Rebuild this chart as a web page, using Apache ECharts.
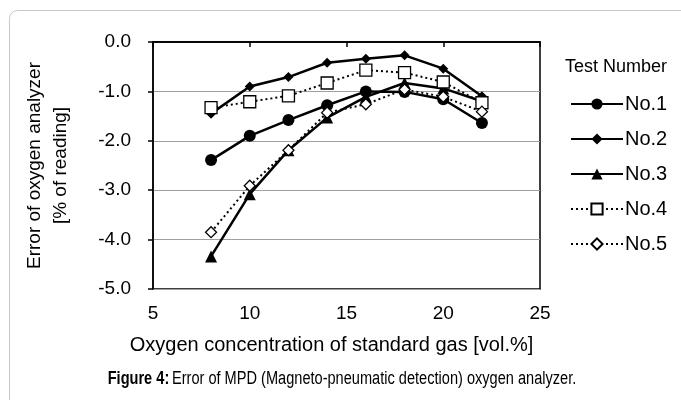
<!DOCTYPE html>
<html><head><meta charset="utf-8">
<script src="https://cdn.jsdelivr.net/npm/echarts@6/dist/echarts.min.js"></script>
<style>html,body{margin:0;padding:0;background:#fff}#c{width:681px;height:400px}</style>
</head><body><div id="c"></div>
<script>
var xValues = [8, 10, 12, 14, 16, 18, 20, 22];
var seriesNames = ['No.1', 'No.2', 'No.3', 'No.4', 'No.5'];
var no1 = [-2.39, -1.90, -1.58, -1.28, -1.00, -1.01, -1.16, -1.64];
var no2 = [-1.45, -0.90, -0.71, -0.42, -0.34, -0.27, -0.54, -1.10];
var no3 = [-4.34, -3.08, -2.19, -1.53, -1.11, -0.83, -0.94, -1.20];
var no4 = [-1.33, -1.21, -1.09, -0.83, -0.57, -0.62, -0.81, -1.23];
var no5 = [-3.85, -2.91, -2.19, -1.43, -1.26, -0.96, -1.11, -1.41];
var xTicks = [5, 10, 15, 20, 25];
var yTicks = [0, -1, -2, -3, -4, -5];

function pairs(v){ return xValues.map(function(x,i){ return [x, v[i]]; }); }
var FONT = 'Liberation Sans, Arial, sans-serif';
var chart = echarts.init(document.getElementById('c'));
var solid = {color:'#000', width:2.5, type:'solid'};
var dotted = {color:'#000', width:2, type:[2,3]};
function mk(name, data, symbol, size, ls, filled){
  return {
    name: name, type: 'line', data: pairs(data), symbol: symbol, symbolSize: size,
    lineStyle: ls, itemStyle: {color: filled ? '#000' : '#fff', borderColor:'#000', borderWidth: filled?0:1.3},
    emphasis: {disabled:true}, animation:false, z: filled?3:4
  };
}
chart.setOption({
  animation: false,
  textStyle: {fontFamily: FONT},
  graphic: [
    {type:'rect', shape:{x:9.5, y:10.5, width:720, height:440, r:8}, style:{fill:'none', stroke:'#c8c8c8', lineWidth:1}, silent:true},
    {type:'text', left:565, top:58, style:{text:'Test Number', font:'18px ' + FONT, fill:'#000'}, silent:true},
    {type:'text', x:342, y:379, scaleX:0.81, silent:true,
     style:{text:'{b|Figure 4:} {n|Error of MPD (Magneto-pneumatic detection) oxygen analyzer.}',
       align:'center', verticalAlign:'middle',
       rich:{b:{fontFamily:FONT, fontWeight:'bold', fontSize:18, fill:'#000'}, n:{fontFamily:FONT, fontWeight:'normal', fontSize:18, fill:'#000'}}}}
  ],
  grid: {left:153, right:141, top:42, bottom:111, show:true, borderColor:'#000', borderWidth:1.5, backgroundColor:'transparent'},
  legend: {
    orient:'vertical', left:570, top:94, padding:0, itemWidth:52, itemHeight:14, itemGap:15,
    data: seriesNames, selectedMode:false,
    textStyle:{fontFamily:FONT, fontSize:20, color:'#000', padding:[0,0,0,-3]}
  },
  xAxis: [{
    type:'value', min:5, max:25, interval:5, position:'bottom',
    name:'Oxygen concentration of standard gas [vol.%]', nameLocation:'middle', nameGap:46,
    nameTextStyle:{fontFamily:FONT, fontSize:20, color:'#000', padding:[0,30,0,0]},
    axisLine:{show:true, lineStyle:{color:'#000', width:1.5}}, axisTick:{show:false},
    axisLabel:{fontFamily:FONT, fontSize:19, color:'#000', margin:15, formatter:function(v){return xTicks.indexOf(v)>=0?String(v):'';}},
    splitLine:{show:false}
  },{
    type:'value', min:5, max:25, interval:5, position:'top',
    axisLine:{show:true, lineStyle:{color:'#000', width:1.5}},
    axisTick:{show:true, inside:true, length:5, lineStyle:{color:'#000', width:1.5}},
    axisLabel:{show:false}, splitLine:{show:false}
  }],
  yAxis: {
    type:'value', min:-5, max:0, interval:1,
    name:'Error of oxygen analyzer\n[% of reading]', nameLocation:'middle', nameGap:79, nameRotate:90,
    nameTextStyle:{fontFamily:FONT, fontSize:19, color:'#000', lineHeight:26},
    axisLine:{show:true, lineStyle:{color:'#000', width:1.5}},
    axisTick:{show:true, length:5, lineStyle:{color:'#000', width:1.5}},
    axisLabel:{fontFamily:FONT, fontSize:19, color:'#000', margin:22, formatter:function(v){return yTicks.indexOf(v)>=0? v.toFixed(1):'';}},
    splitLine:{show:true, lineStyle:{color:'#a0a0a0', width:1}}
  },
  series: [
    mk('No.1', no1, 'circle', 12, solid, true),
    mk('No.2', no2, 'diamond', 10, solid, true),
    mk('No.3', no3, 'triangle', 12, solid, true),
    mk('No.4', no4, 'rect', 12, dotted, false),
    mk('No.5', no5, 'diamond', 11, dotted, false)
  ]
});
</script></body></html>
